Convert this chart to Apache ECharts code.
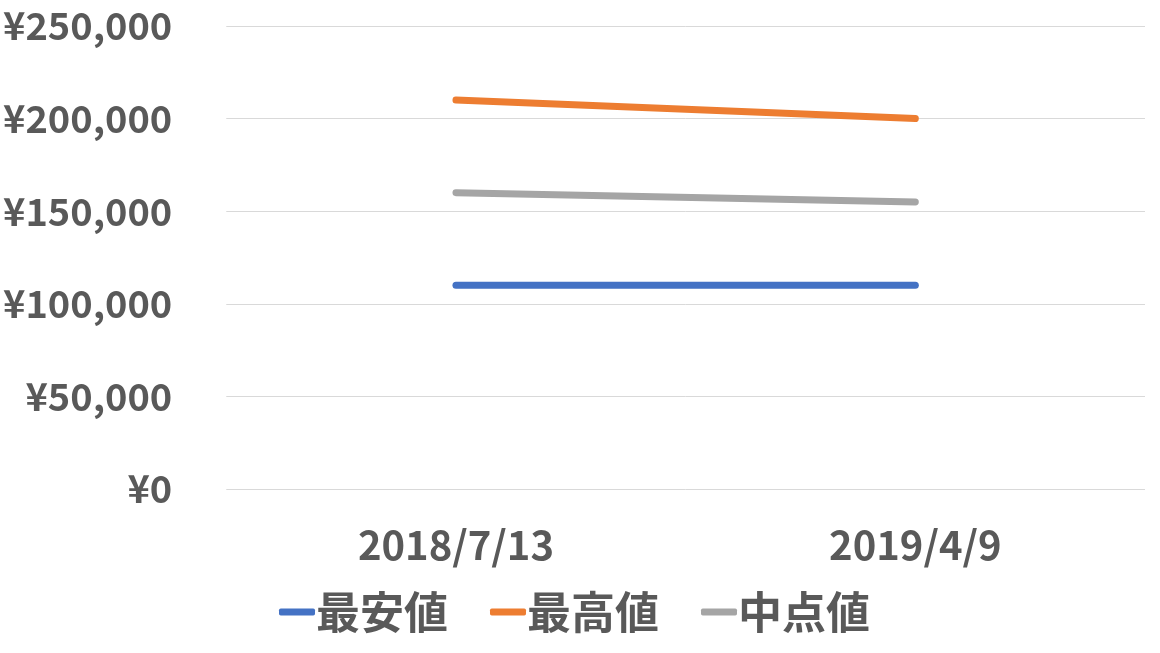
<!DOCTYPE html>
<html><head><meta charset="utf-8">
<script src="https://cdn.jsdelivr.net/npm/echarts@6/dist/echarts.min.js"></script>
<style>html,body{margin:0;padding:0;background:#fff}#c{width:1160px;height:653px}</style>
</head><body><div id="c"></div>
<script>
const categories = ['2018/7/13', '2019/4/9'];
const seriesNames = ['最安値', '最高値', '中点値'];
const minValues = [110000, 110000];
const maxValues = [210000, 200000];
const midValues = [160000, 155000];
const colors = ['#4472C4', '#ED7D31', '#A5A5A5'];
const FONT = '"Noto Sans CJK JP", "Noto Sans", sans-serif';
const chart = echarts.init(document.getElementById('c'));
const mk = (name, data, color) => ({
  name, type: 'line', data, symbol: 'none', showSymbol: false,
  lineStyle: { width: 7, color, cap: 'round' }, itemStyle: { color }
});
chart.setOption({
  animation: false,
  color: colors,
  grid: { left: 226, right: 15, top: 26, bottom: 164 },
  xAxis: {
    type: 'category', data: categories, boundaryGap: true,
    axisLine: { show: false }, axisTick: { show: false },
    axisLabel: { color: '#595959', fontSize: 40, fontWeight: 'bold', fontFamily: FONT, margin: 36 }
  },
  yAxis: {
    type: 'value', min: 0, max: 250000, interval: 50000,
    axisLine: { show: false }, axisTick: { show: false },
    splitLine: { lineStyle: { color: '#D9D9D9', width: 1 } },
    axisLabel: {
      color: '#595959', fontSize: 38, fontWeight: 'bold', fontFamily: FONT, margin: 54,
      formatter: v => '¥' + v.toLocaleString('en-US')
    }
  },
  legend: {
    bottom: 14, left: 274, icon: 'roundRect', itemWidth: 36, itemHeight: 7, itemGap: 42,
    textStyle: { color: '#595959', fontSize: 44, fontWeight: 'bold', fontFamily: FONT, padding: [0,0,0,-4] },
    data: seriesNames
  },
  series: [mk(seriesNames[0], minValues, colors[0]), mk(seriesNames[1], maxValues, colors[1]), mk(seriesNames[2], midValues, colors[2])]
});
</script></body></html>
